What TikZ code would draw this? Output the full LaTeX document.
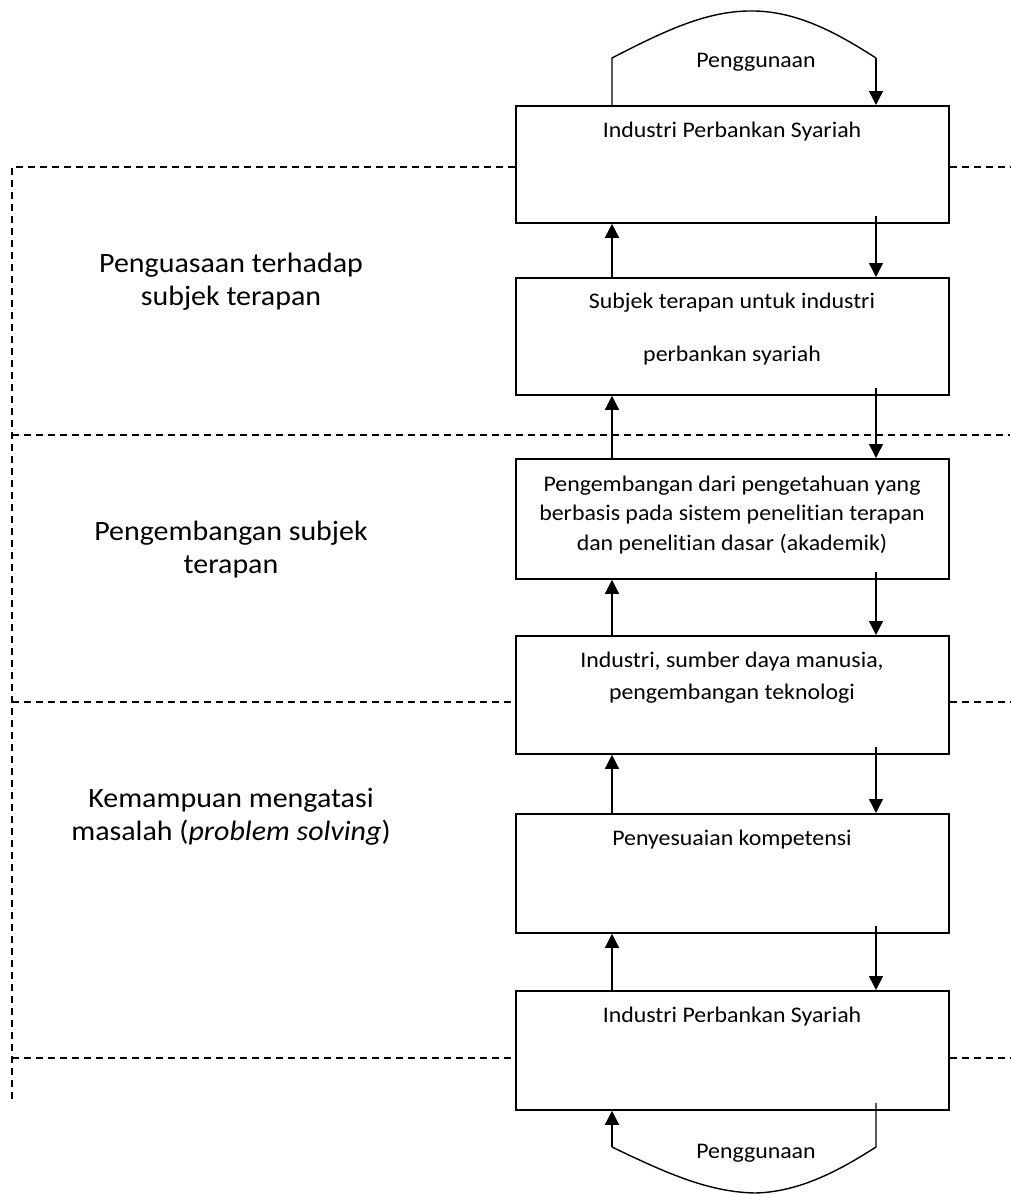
\documentclass[tikz,border=0pt]{standalone}
\usepackage{fontspec}
\setmainfont[FakeStretch=1.07,Ligatures=NoCommon]{Carlito}
\usetikzlibrary{arrows.meta,calc}
\begin{document}
\begin{tikzpicture}[x=1pt,y=-1pt,
  stagebox/.style={draw,line width=1.8pt,minimum width=433pt,minimum height=117pt,inner sep=0pt,anchor=north west},
  boxtext/.style={font=\fontsize{22.3}{31}\selectfont,align=center,anchor=base,inner sep=0pt},
  sidetext/.style={font=\fontsize{28}{32.5}\selectfont,align=center,anchor=base,inner sep=0pt},
  flow/.style={line width=1.4pt,-{Triangle[width=14pt,length=14pt]}},
  plain/.style={line width=1.4pt},
  zone/.style={line width=1.4pt,dash pattern=on 7pt off 5pt}]
\useasboundingbox (0,0) rectangle (1010,1194);
% stage boxes
\node[stagebox] (b1) at (515,105) {};
\node[stagebox] (b2) at (515,277) {};
\node[stagebox,minimum height=120pt] (b3) at (515,458) {};
\node[stagebox,minimum height=118pt] (b4) at (515,635) {};
\node[stagebox,minimum height=119pt] (b5) at (515,813) {};
\node[stagebox,minimum height=119pt] (b6) at (515,990) {};
% box texts (anchored on the baseline of their last line)
\node[boxtext] (t1) at (732,137) {Industri Perbankan Syariah};
\node[boxtext,font=\fontsize{22.3}{53}\selectfont] (t2) at (732,361) {Subjek terapan untuk industri\\perbankan syariah};
\node[boxtext,font=\fontsize{22.3}{29.7}\selectfont] (t3) at (732,550.5) {Pengembangan dari pengetahuan yang\\berbasis pada sistem penelitian terapan\\dan penelitian dasar (akademik)};
\node[boxtext,font=\fontsize{22.3}{32}\selectfont] (t4) at (732,699) {Industri, sumber daya manusia,\\pengembangan teknologi};
\node[boxtext] (t5) at (732,845) {Penyesuaian kompetensi};
\node[boxtext] (t6) at (732,1022) {Industri Perbankan Syariah};
% side labels
\node[sidetext] (s1) at (231,305) {Penguasaan terhadap\\subjek terapan};
\node[sidetext] (s2) at (231,573) {Pengembangan subjek\\terapan};
\node[sidetext] (s3) at (231,840) {Kemampuan mengatasi\\masalah (\textit{problem solving})};
% arrow columns
\coordinate (U) at (612,0);
\coordinate (D) at (876,0);
% upward and downward flows between boxes
\foreach \a/\b in {b1/b2,b2/b3,b3/b4,b4/b5,b5/b6}{
  \draw[flow] (\b.north -| U) -- (\a.south -| U);
  \draw[flow] ($(\a.south -| D)+(0,-8)$) -- (\b.north -| D);
}
% top usage loop
\coordinate (tl) at (612,58);
\coordinate (tr) at (876,58);
\draw[plain] (b1.north -| U) -- (tl) .. controls (670,28) and (710,10) .. (755,11)
  .. controls (800,12) and (840,35) .. (tr);
\draw[flow] (tr) -- (b1.north -| D);
\node[boxtext] (p1) at (756,67) {Penggunaan};
% bottom usage loop
\coordinate (bl) at (612,1147);
\coordinate (br) at (876,1147);
\draw[plain] ($(b6.south -| D)+(0,-8)$) -- (br) .. controls (840,1170) and (800,1192) .. (755,1193)
  .. controls (710,1192) and (670,1175) .. (bl);
\draw[flow] (bl) -- (b6.south -| U);
\node[boxtext] (p2) at (756,1158) {Penggunaan};
% zone separators
\coordinate (z0) at (12,167);
\coordinate (z4) at (12,1100);
\draw[zone] (b1.west |- z0) -- (z0) -- (z4);
\draw[zone] (b1.east |- z0) -- (1010,167);
\draw[zone] (12,435) -- (1010,435);
\draw[zone] (12,702) -- (b4.west |- 12,702);
\draw[zone] (b4.east |- 12,702) -- (1010,702);
\draw[zone] (12,1058) -- (b6.west |- 12,1058);
\draw[zone] (b6.east |- 12,1058) -- (1010,1058);
\end{tikzpicture}
\end{document}
